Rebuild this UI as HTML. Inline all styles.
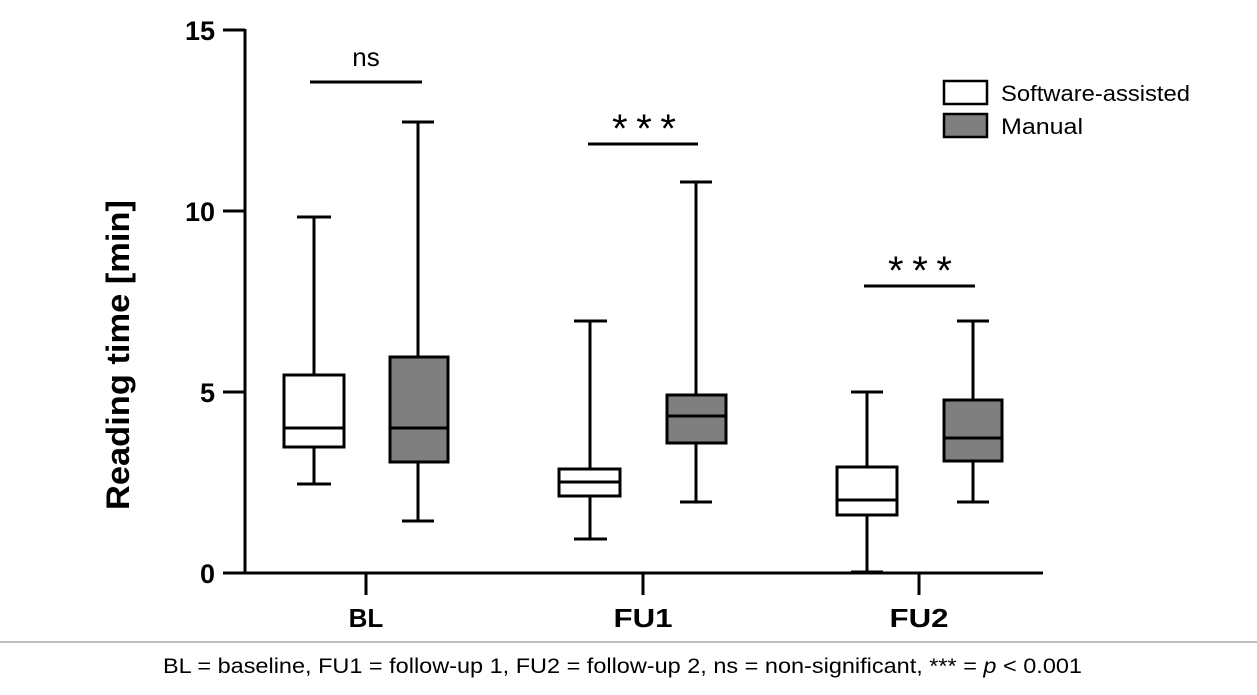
<!DOCTYPE html>
<html><head><meta charset="utf-8"><style>body{margin:0;background:#fff}svg{display:block}</style></head><body>
<svg width="1257" height="695" xmlns="http://www.w3.org/2000/svg" font-family="Liberation Sans, sans-serif">
<g stroke="#000" stroke-width="3" fill="none">
<line x1="245" y1="29" x2="245" y2="574"/>
<line x1="244" y1="573" x2="1043" y2="573"/>
<line x1="223" y1="30" x2="245" y2="30"/>
<line x1="223" y1="211" x2="245" y2="211"/>
<line x1="223" y1="392" x2="245" y2="392"/>
<line x1="223" y1="573" x2="245" y2="573"/>
<line x1="366" y1="573" x2="366" y2="595"/>
<line x1="643" y1="573" x2="643" y2="595"/>
<line x1="919" y1="573" x2="919" y2="595"/>
<line x1="310" y1="82" x2="422" y2="82"/>
<line x1="588" y1="144" x2="698" y2="144"/>
<line x1="864" y1="286" x2="975" y2="286"/>
<line x1="314" y1="217" x2="314" y2="484"/><line x1="297" y1="217" x2="331" y2="217"/><line x1="297" y1="484" x2="331" y2="484"/>
<rect x="284" y="375" width="60" height="72" fill="#fff"/><line x1="284" y1="428" x2="344" y2="428"/>
<line x1="418" y1="122" x2="418" y2="521"/><line x1="402" y1="122" x2="434" y2="122"/><line x1="402" y1="521" x2="434" y2="521"/>
<rect x="390" y="357" width="58" height="105" fill="#7f7f7f"/><line x1="390" y1="428" x2="448" y2="428"/>
<line x1="590" y1="321" x2="590" y2="539"/><line x1="574" y1="321" x2="607" y2="321"/><line x1="574" y1="539" x2="607" y2="539"/>
<rect x="559" y="469" width="61" height="27" fill="#fff"/><line x1="559" y1="482" x2="620" y2="482"/>
<line x1="696" y1="182" x2="696" y2="502"/><line x1="680" y1="182" x2="712" y2="182"/><line x1="680" y1="502" x2="712" y2="502"/>
<rect x="667" y="395" width="59" height="48" fill="#7f7f7f"/><line x1="667" y1="416" x2="726" y2="416"/>
<line x1="867" y1="392" x2="867" y2="572"/><line x1="851" y1="392" x2="883" y2="392"/><line x1="851" y1="572" x2="883" y2="572"/>
<rect x="837" y="467" width="60" height="48" fill="#fff"/><line x1="837" y1="500" x2="897" y2="500"/>
<line x1="973" y1="321" x2="973" y2="502"/><line x1="957" y1="321" x2="989" y2="321"/><line x1="957" y1="502" x2="989" y2="502"/>
<rect x="944" y="400" width="58" height="61" fill="#7f7f7f"/><line x1="944" y1="438" x2="1002" y2="438"/>
<rect x="944" y="81" width="43" height="23" fill="#fff" stroke-width="2.5"/>
<rect x="944" y="114" width="43" height="23" fill="#7f7f7f" stroke-width="2.5"/>
</g>
<g font-weight="bold" font-size="27" text-anchor="end">
<text x="215" y="40">15</text><text x="215" y="221">10</text><text x="215" y="402">5</text><text x="215" y="583">0</text>
</g>
<g font-weight="bold" font-size="26" text-anchor="middle">
<text x="366" y="627">BL</text><text x="643" y="627" textLength="59" lengthAdjust="spacingAndGlyphs">FU1</text><text x="919" y="627" textLength="59" lengthAdjust="spacingAndGlyphs">FU2</text>
</g>
<text transform="translate(129,355) rotate(-90)" text-anchor="middle" font-weight="bold" font-size="32" textLength="310" lengthAdjust="spacingAndGlyphs">Reading time [min]</text>
<text x="366" y="66" text-anchor="middle" font-size="26">ns</text>
<text x="644" y="142" text-anchor="middle" font-size="40" textLength="64" lengthAdjust="spacing">***</text>
<text x="920" y="284" text-anchor="middle" font-size="40" textLength="64" lengthAdjust="spacing">***</text>
<text x="1001" y="101" font-size="22" textLength="189" lengthAdjust="spacingAndGlyphs">Software-assisted</text>
<text x="1001" y="134" font-size="22" textLength="82" lengthAdjust="spacingAndGlyphs">Manual</text>
<line x1="0" y1="642" x2="1257" y2="642" stroke="#aaa" stroke-width="1.5"/>
<text x="163" y="673" font-size="21" textLength="919" lengthAdjust="spacingAndGlyphs">BL = baseline, FU1 = follow-up 1, FU2 = follow-up 2, ns = non-significant, *** = <tspan font-style="italic">p</tspan> &lt; 0.001</text>
</svg>
</body></html>
